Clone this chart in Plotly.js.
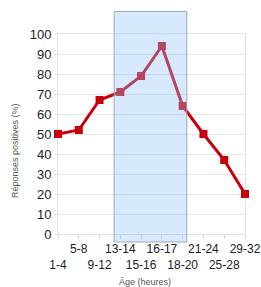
<!DOCTYPE html>
<html>
<head>
<meta charset="utf-8">
<script src="https://cdn.plot.ly/plotly-3.0.1.min.js"></script>
<style>html,body{margin:0;padding:0;background:#fff;}#chart{width:261px;height:287px;}</style>
</head>
<body>
<div id="chart"></div>
<script>
const categories = ["1-4","5-8","9-12","13-14","15-16","16-17","18-20","21-24","25-28","29-32"];
const responses = [50, 52, 67, 71, 79, 94, 64, 50, 37, 20];
const yTicks = [0,10,20,30,40,50,60,70,80,90,100];
const highlightStart = 2.7;
const highlightEnd = 6.2;
const xTitle = "Âge (heures)";
const yTitle = "Réponses positives (%)";

const idx = categories.map((c, i) => i);
const tickText = categories.map((c, i) => i % 2 === 1 ? c + "<br>\u00a0" : "\u00a0<br>" + c);

const red = "rgb(200,0,10)";
const trace = {
  x: idx, y: responses, type: "scatter", mode: "lines+markers",
  line: {color: red, width: 3},
  marker: {symbol: "square", size: 8, color: red},
  cliponaxis: false, hoverinfo: "none"
};

const layout = {
  width: 261, height: 287,
  margin: {l: 58, r: 16, t: 34, b: 53},
  paper_bgcolor: "#fff", plot_bgcolor: "#fff",
  showlegend: false,
  font: {family: "Liberation Sans, Arial, sans-serif", color: "#222"},
  xaxis: {
    range: [0, 9], tickvals: idx, ticktext: tickText, tickangle: 0,
    showgrid: false, zeroline: false, layer: "below traces",
    showline: true, mirror: true, linecolor: "#e2e2e2", linewidth: 1,
    ticks: "outside", ticklen: 4, tickcolor: "#d8d8d8",
    tickfont: {size: 12, color: "#222"}
  },
  yaxis: {
    range: [0, 100], tickvals: yTicks, layer: "below traces",
    showgrid: true, gridcolor: "#e6e6e6", zeroline: false,
    showline: true, mirror: true, linecolor: "#e2e2e2",
    ticks: "outside", ticklen: 3, tickcolor: "#e6e6e6",
    tickfont: {size: 13, color: "#222"}
  },
  annotations: [
    {text: xTitle, xref: "paper", yref: "paper", x: 0.465, y: -0.24,
     xanchor: "center", yanchor: "middle", showarrow: false,
     font: {size: 9, color: "#555"}},
    {text: yTitle, xref: "paper", yref: "paper", x: -0.23, y: 0.42,
     xanchor: "center", yanchor: "middle", showarrow: false, textangle: -90,
     font: {size: 9, color: "#555"}}
  ],
  shapes: [
    {type: "rect", layer: "above", xref: "x", yref: "paper",
     x0: highlightStart, x1: highlightEnd, y0: -0.04, y1: 1.1125,
     fillcolor: "rgb(144,194,250)", opacity: 0.36, line: {width: 0}},
    {type: "rect", layer: "above", xref: "x", yref: "paper",
     x0: highlightStart, x1: highlightEnd, y0: -0.04, y1: 1.1125,
     fillcolor: "rgba(0,0,0,0)", line: {color: "rgb(160,168,178)", width: 1}}
  ]
};

Plotly.newPlot("chart", [trace], layout, {staticPlot: true, displayModeBar: false});
</script>
</body>
</html>
